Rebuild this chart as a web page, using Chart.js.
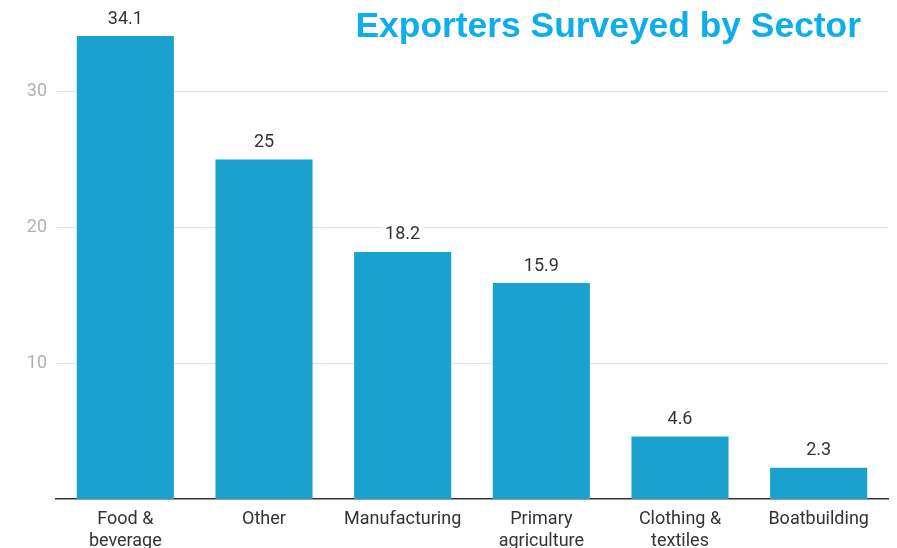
<!DOCTYPE html>
<html>
<head>
<meta charset="utf-8">
<script src="https://cdn.jsdelivr.net/npm/chart.js@4"></script>
<style>
  html, body { margin: 0; padding: 0; background: #fff; }
  #wrap { width: 897px; height: 548px; position: relative; }
</style>
</head>
<body>
<div id="wrap"><canvas id="sectorChart"></canvas></div>
<script>
const sectors = [['Food &', 'beverage'], 'Other', 'Manufacturing', ['Primary', 'agriculture'], ['Clothing &', 'textiles'], 'Boatbuilding'];
const shares = [34.1, 25, 18.2, 15.9, 4.6, 2.3];
const yTicks = [10, 20, 30];
const chartTitle = 'Exporters Surveyed by Sector';

// value labels above each bar, on a white backing so gridlines stop short of them
const valueLabels = {
    id: 'valueLabels',
    afterDatasetsDraw(chart) {
        const c = chart.ctx;
        const meta = chart.getDatasetMeta(0);
        c.save();
        c.font = '18px Roboto';
        c.textAlign = 'center';
        c.textBaseline = 'middle';
        meta.data.forEach((bar, i) => {
            const txt = String(shares[i]);
            const w = c.measureText(txt).width;
            const cy = bar.y - 17;
            c.fillStyle = '#ffffff';
            c.fillRect(bar.x - w / 2 - 3, cy - 10, w + 6, 20);
            c.fillStyle = '#333333';
            c.fillText(txt, bar.x, cy);
        });
        c.restore();
    }
};

// title sits in the top right corner, over the plot
const cornerTitle = {
    id: 'cornerTitle',
    afterDraw(chart) {
        const c = chart.ctx;
        c.save();
        c.font = 'bold 35.4px "Liberation Sans", Arial, sans-serif';
        c.fillStyle = '#0eaeea';
        c.textAlign = 'right';
        c.textBaseline = 'middle';
        c.fillText(chartTitle, 861, 27);
        c.restore();
    }
};

const ctx = document.getElementById('sectorChart').getContext('2d');

new Chart(ctx, {
    type: 'bar',
    data: {
        labels: sectors,
        datasets: [{
            data: shares,
            backgroundColor: '#1aa1cd',
            borderWidth: 0,
            barPercentage: 0.7,
            categoryPercentage: 1.0
        }]
    },
    options: {
        responsive: true,
        maintainAspectRatio: false,
        animation: false,
        layout: { padding: { top: 36, right: 9, left: 0, bottom: 0 } },
        scales: {
            x: {
                grid: { display: false, drawTicks: false },
                border: { display: true, color: '#333333', width: 1.5 },
                ticks: {
                    color: '#333333',
                    font: { family: 'Roboto', size: 18, lineHeight: 1.22 },
                    padding: 10,
                    maxRotation: 0,
                    autoSkip: false
                },
                afterFit(scale) { scale.height = 49; }
            },
            y: {
                min: 0,
                max: Math.max(...shares),
                afterBuildTicks(scale) {
                    scale.ticks = yTicks.map(v => ({ value: v }));
                },
                grid: { color: '#e3e3e3', lineWidth: 1, drawTicks: false },
                border: { display: false },
                ticks: {
                    color: '#b0b0b0',
                    font: { family: 'Roboto', size: 18 },
                    padding: 9
                },
                afterFit(scale) { scale.width = 56; }
            }
        },
        plugins: {
            legend: { display: false },
            title: { display: false },
            tooltip: { enabled: false }
        }
    },
    plugins: [valueLabels, cornerTitle]
});
</script>
</body>
</html>
